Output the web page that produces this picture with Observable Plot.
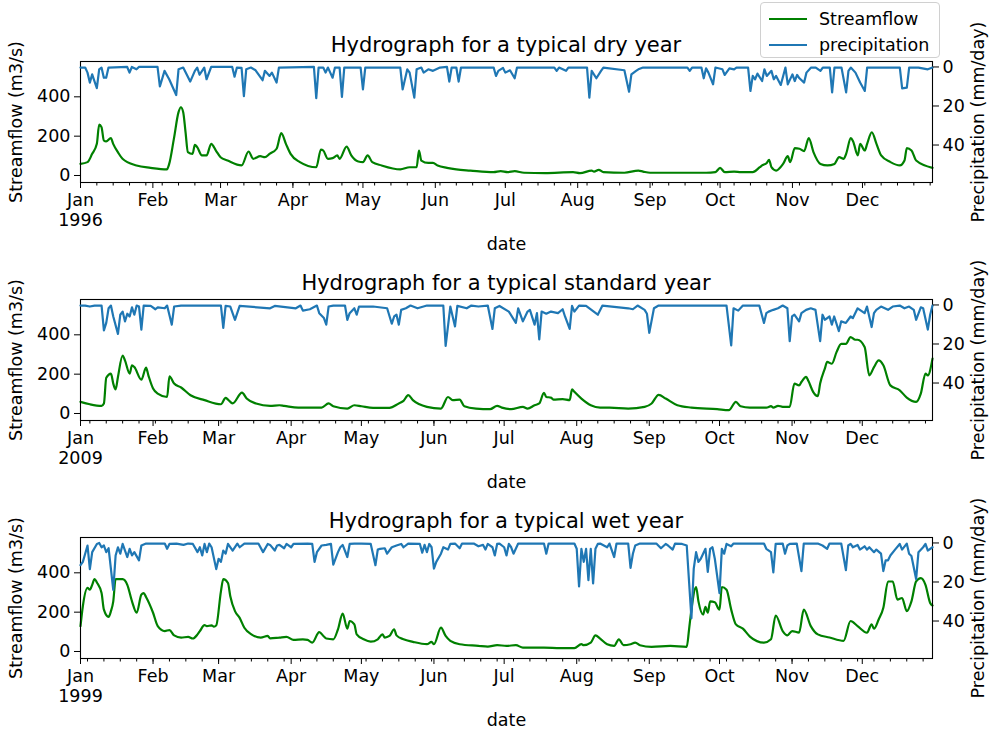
<!DOCTYPE html>
<html>
<head>
<meta charset="utf-8">
<script src="https://cdn.jsdelivr.net/npm/d3@7"></script>
<script src="https://cdn.jsdelivr.net/npm/@observablehq/plot@0.6"></script>
<style>
  body { margin: 0; background: #fff; }
  #fig { position: relative; width: 993px; height: 734px; overflow: hidden; font-family: "DejaVu Sans", sans-serif; color: #000; }
  #fig svg { position: absolute; left: 0; overflow: visible; }
  .title { position: absolute; left: 80px; width: 852px; text-align: center; font-size: 21px; line-height: 24px; }
  .legend { position: absolute; left: 760px; top: 2px; width: 180px; height: 56px; box-sizing: border-box;
            border: 1px solid #d0d0d0; border-radius: 4px; background: rgba(255,255,255,0.8); font-size: 17.5px; z-index: 10; }
  .legend .row { position: absolute; left: 8px; height: 22px; display: flex; align-items: center; }
  .legend .sw { width: 38px; height: 2.2px; margin-right: 12px; }
</style>
</head>
<body>
<div id="fig"></div>
<script>
// Daily streamflow (m3/s) as [day of year, value] turning points, and daily precipitation (mm/day).
const years = [1996, 2009, 1999];
const titles = ["Hydrograph for a typical dry year", "Hydrograph for a typical standard year", "Hydrograph for a typical wet year"];
const monthLabels = ["Jan", "Feb", "Mar", "Apr", "May", "Jun", "Jul", "Aug", "Sep", "Oct", "Nov", "Dec"];
const flowTicks = [0, 200, 400];
const rainTicks = [0, 20, 40];

const dryFlow = [[0,59],[3,68],[5,110],[7,161],[8,259],[9,246],[10,178],[11,173],[13,190],[14,161],[16,119],[18,85],[24,51],[30,39],[37,31],[38,59],[40,186],[42,322],[43,347],[44,322],[45,220],[46,119],[48,110],[49,156],[50,144],[52,102],[54,102],[56,161],[58,127],[60,93],[63,76],[69,51],[72,122],[74,85],[77,98],[79,93],[81,110],[84,136],[86,215],[88,161],[90,110],[94,68],[101,42],[103,132],[104,127],[106,85],[108,88],[110,102],[111,85],[114,147],[116,102],[119,71],[121,68],[123,102],[125,68],[129,51],[137,31],[141,42],[144,42],[145,127],[146,76],[149,64],[151,64],[153,51],[157,39],[161,31],[167,25],[177,17],[180,22],[183,17],[186,22],[190,14],[199,12],[211,17],[214,12],[219,25],[220,20],[222,29],[224,17],[233,14],[239,25],[241,20],[244,14],[268,14],[272,17],[274,39],[276,17],[280,20],[283,17],[288,17],[291,42],[292,51],[294,64],[295,80],[296,42],[298,25],[301,59],[303,98],[304,68],[306,139],[308,136],[310,124],[312,190],[314,119],[317,59],[320,51],[323,59],[325,93],[327,85],[328,110],[330,190],[331,173],[333,102],[334,161],[336,127],[337,161],[339,220],[341,161],[343,102],[347,68],[351,51],[353,76],[354,139],[356,127],[358,76],[365,39]];

const dryRain = [[0,0.3],[2,0.3],[3,2.9],[4,8],[5,3.8],[7,10.9],[8,1.2],[9,0.3],[10,5.5],[11,5.5],[12,0.3],[20,0],[21,2.9],[22,0],[24,1.2],[25,0],[33,0],[34,10],[36,2],[38,6.3],[41,14.4],[42,1.2],[44,0.3],[47,7.5],[49,2],[50,0.3],[51,4],[53,0.3],[54,6.3],[56,0],[65,0],[66,5],[67,0.3],[69,0.5],[70,15],[71,1.2],[73,0.3],[75,1.7],[78,6.8],[79,2],[81,4.6],[82,2.9],[84,8],[85,0.3],[100,0],[101,16],[102,0.3],[104,0.3],[105,2.9],[106,0.3],[107,2.9],[108,5.5],[109,0.3],[111,0.3],[112,15.4],[113,0.3],[120,0.3],[121,11.5],[122,0.3],[137,0.3],[138,11.5],[140,1.2],[141,2.9],[143,15.7],[144,1.2],[146,0.3],[147,2.9],[149,1.2],[151,2],[154,0.3],[157,0],[158,7.5],[159,0.3],[161,0.3],[162,7.5],[163,0.3],[177,0.3],[178,4.6],[179,2],[181,0.5],[182,2.9],[184,1.7],[186,5.8],[187,0.3],[203,0.3],[204,2],[205,0.3],[208,2],[209,0.3],[217,0.3],[218,15.7],[219,2],[221,5.8],[223,2],[224,0.3],[233,1.7],[235,12.7],[236,3.8],[238,2],[239,1.2],[241,0.3],[260,0.3],[261,2],[262,0.3],[266,0.3],[267,5.8],[268,0.7],[269,2.9],[271,8.9],[272,0.3],[275,1.2],[276,4.1],[278,0.7],[280,1.2],[281,0.3],[286,0.3],[287,12.3],[288,4.6],[289,6.3],[290,3.4],[292,7.2],[293,1.2],[294,4.6],[296,2],[297,6.3],[298,4.6],[300,9.2],[302,0.3],[303,8.9],[305,3.8],[306,7.2],[307,4.1],[308,5.8],[310,8],[311,2.9],[313,0.3],[315,0.3],[317,2],[318,0.3],[321,0.3],[322,13],[323,0.3],[326,0.3],[328,13],[329,2],[330,0.3],[332,2.9],[334,8],[336,12.3],[337,0.3],[351,0.3],[352,11],[354,10.6],[355,0.3],[359,0.3],[363,1.2],[365,0.3]];

const stdFlow = [[0,59],[4,47],[9,39],[10,51],[11,182],[13,203],[14,152],[15,122],[16,186],[18,295],[19,270],[21,203],[22,245],[23,236],[26,172],[28,233],[29,194],[31,127],[33,101],[37,84],[38,189],[40,152],[43,132],[47,93],[53,68],[60,47],[62,79],[63,71],[65,51],[69,106],[71,76],[75,51],[81,39],[85,42],[87,39],[93,30],[103,30],[106,51],[108,37],[114,25],[117,42],[120,37],[125,29],[132,29],[136,51],[138,64],[140,93],[142,68],[148,34],[154,25],[157,84],[159,68],[162,71],[164,37],[169,25],[175,22],[178,39],[180,30],[184,22],[189,34],[191,25],[194,42],[196,51],[198,105],[199,84],[201,81],[202,71],[206,73],[209,68],[210,123],[211,110],[214,76],[218,42],[222,30],[226,30],[234,25],[241,34],[244,51],[247,95],[250,76],[255,42],[261,30],[272,22],[277,17],[280,59],[282,37],[286,30],[293,30],[295,37],[296,30],[298,39],[300,34],[303,34],[305,152],[307,143],[308,160],[310,186],[311,165],[313,110],[315,88],[316,152],[318,228],[319,262],[321,253],[323,312],[325,354],[327,354],[329,388],[331,375],[332,375],[335,338],[337,194],[339,236],[341,270],[343,245],[346,143],[350,118],[353,81],[357,59],[359,101],[361,203],[362,194],[364,279]];

const stdRain = [[0,0.3],[2,0.3],[4,0.8],[6,0.3],[9,0.3],[10,13],[11,9.2],[12,1.7],[13,0.3],[14,5.9],[16,14.8],[17,5],[18,3.4],[19,8.4],[20,4.5],[21,5.9],[22,1.2],[23,5],[24,0.3],[25,0.8],[26,12.6],[27,0.3],[30,0.5],[32,2.2],[33,1.2],[36,1.7],[37,0.3],[39,10.1],[40,0.8],[43,0.3],[60,0.3],[61,11.8],[62,0.5],[64,0.8],[66,7.6],[68,0.5],[81,1.7],[83,0.5],[92,1.7],[94,0.3],[95,2.9],[98,2.2],[101,0.3],[102,4.2],[104,6.7],[105,10.1],[106,0.8],[108,0.3],[113,0.3],[114,7.6],[115,4.2],[117,1.7],[118,5],[119,0.8],[125,0.8],[131,1.7],[133,9.6],[134,5.9],[135,5],[136,10.1],[137,2.5],[139,1.7],[141,0.3],[144,1.7],[148,0.3],[155,0.3],[156,21],[158,0.8],[160,11],[161,0.5],[165,1.7],[167,0.3],[170,0.8],[174,0.3],[176,12.3],[177,1.7],[179,0.5],[183,3.4],[186,9.2],[187,1.7],[189,8.4],[191,3.4],[192,2.5],[194,10.1],[195,4.2],[196,17.6],[197,3.4],[199,4.5],[201,3.4],[204,4.2],[206,2.2],[207,5.9],[209,12.3],[210,0.5],[211,3.4],[213,0.3],[216,0.5],[221,5],[223,0.3],[234,1.7],[236,2.2],[238,0.3],[241,2.5],[242,4.5],[243,14.3],[245,1.7],[247,0.3],[256,0.3],[276,0.3],[278,20.7],[279,1.7],[281,2.9],[283,0.3],[290,0.3],[292,9.2],[293,4.2],[294,3.4],[296,2.5],[298,1.7],[300,0.3],[302,1.7],[303,18.5],[304,5.9],[305,5],[307,8.4],[308,4.2],[310,2.5],[312,1.7],[314,2.5],[316,18.5],[317,5],[318,7.6],[320,5.9],[321,10.1],[322,5.9],[324,13.4],[325,8.4],[327,9.2],[329,5.9],[330,6.7],[332,1.7],[335,4.2],[336,0.8],[338,11.3],[339,4.2],[340,2.5],[342,0.8],[345,2.5],[347,0.8],[350,0.3],[352,1.7],[354,0.8],[356,2.5],[357,7.6],[359,1.2],[360,1.7],[362,12.6],[363,5],[364,0.3]];

const wetFlow = [[0,129],[1,230],[3,323],[4,314],[5,339],[6,368],[7,351],[9,297],[10,213],[12,176],[13,205],[14,255],[15,368],[18,368],[20,339],[22,255],[24,197],[26,289],[27,297],[28,277],[31,197],[33,129],[36,104],[38,109],[40,82],[43,71],[46,74],[48,66],[50,87],[51,104],[53,134],[54,129],[56,133],[57,126],[58,133],[60,306],[61,368],[63,348],[64,281],[66,205],[68,171],[70,121],[73,87],[77,71],[80,79],[81,67],[85,71],[88,74],[91,59],[95,62],[97,59],[99,45],[102,99],[104,76],[105,66],[108,62],[110,113],[112,193],[114,116],[115,155],[117,138],[118,87],[121,62],[124,50],[127,62],[129,87],[130,71],[132,79],[134,113],[135,82],[138,62],[142,49],[148,37],[150,49],[151,37],[154,121],[156,79],[158,54],[162,37],[170,29],[174,25],[178,32],[182,29],[186,32],[189,20],[198,20],[205,17],[211,17],[214,37],[215,32],[218,45],[220,82],[222,66],[225,37],[228,29],[230,62],[232,32],[235,37],[237,45],[239,32],[244,24],[252,29],[259,24],[260,113],[261,213],[263,328],[264,255],[266,188],[267,227],[268,197],[269,255],[271,250],[273,213],[274,328],[276,314],[278,213],[280,138],[283,116],[286,76],[292,45],[295,62],[297,183],[300,104],[302,82],[304,104],[307,96],[309,213],[312,129],[315,87],[320,71],[326,54],[329,155],[332,129],[336,96],[338,138],[339,116],[341,163],[343,222],[345,356],[347,356],[349,264],[351,272],[353,205],[355,255],[357,356],[359,373],[361,339],[363,247],[364,234]];

const wetRain = [[0,11.4],[1,9.7],[2,5.5],[3,1.3],[4,13.4],[5,4.7],[7,0.5],[8,0],[9,2.2],[10,1.3],[11,4.7],[12,2.7],[14,24],[15,6.4],[16,2.2],[17,5.5],[18,0.5],[20,7.2],[21,3],[22,6.4],[23,4.7],[25,8.9],[26,1.3],[28,0.3],[36,0.3],[37,3],[38,0.5],[41,0.3],[44,1],[46,0.3],[48,0.5],[50,4.7],[51,2.2],[52,6.4],[53,0.5],[54,4.7],[55,0.3],[56,2.2],[58,13.4],[59,8.1],[60,9.7],[61,3.9],[62,5.5],[63,0.5],[65,3.9],[67,0.3],[68,2.2],[70,0.3],[76,0.3],[78,4.7],[80,0.5],[81,1],[83,3.9],[84,1.3],[85,1],[87,2.7],[88,0.5],[90,2.2],[91,0.5],[97,0.3],[99,0.5],[100,9.7],[101,4.7],[103,1.3],[105,1],[107,0.5],[108,11.1],[110,4.7],[111,2.2],[112,1],[114,7.2],[115,0.5],[117,0.3],[120,0.3],[124,0.5],[126,11.4],[127,3.4],[128,3],[130,2.7],[131,5.5],[133,2.2],[135,1.3],[137,0.5],[138,2.2],[140,0.3],[145,0.5],[146,5],[147,1],[148,4.7],[149,0.5],[150,2.2],[151,13.1],[152,9.7],[154,5.5],[155,2.2],[157,3.4],[158,0.5],[160,0.3],[162,2.7],[163,0.3],[168,0.3],[170,1.7],[172,1],[173,3.4],[174,0.5],[176,2.2],[177,6.4],[178,0.5],[179,0.3],[181,2.2],[182,6.4],[183,0.5],[184,2.2],[185,5.5],[187,0.3],[198,0.3],[199,5.5],[200,0.3],[211,0.3],[212,3],[213,22.3],[214,3],[215,9.7],[216,3],[217,19],[218,3],[219,20.7],[220,3],[221,0.5],[222,0.3],[225,2.2],[226,0.3],[228,7.2],[229,0.3],[234,0.3],[235,12.8],[236,5.5],[237,1.3],[239,0.3],[246,0.3],[248,2.7],[250,0.5],[251,1.3],[253,3.4],[254,0.3],[257,0.5],[259,1.3],[261,38.6],[262,13.1],[263,4.7],[264,9.7],[265,8.1],[266,5.5],[267,3],[268,14.8],[269,3],[270,2.2],[271,8.1],[273,25.7],[274,3],[275,5.5],[276,0.5],[278,1.7],[279,0.3],[292,0.3],[293,3],[295,4.7],[296,15.1],[297,0.5],[300,0.3],[301,5.5],[302,1.3],[303,0.5],[306,0.3],[308,14.4],[309,0.3],[315,0.3],[317,1.3],[319,3],[320,0.3],[325,0.3],[327,13.9],[328,1.3],[329,0.5],[330,2.2],[332,1],[333,3.4],[335,1.7],[336,3.4],[337,2.2],[339,4.7],[340,3.4],[342,5.5],[343,14.4],[344,8.9],[345,8.9],[346,6.4],[348,3.4],[350,0.5],[351,3.4],[353,0.3],[354,5.5],[355,6.7],[357,18.5],[358,4.7],[360,2.2],[361,0.5],[362,3.9],[364,2.2]];

// Axis extents shared by the three panels
const flowDomain = [-35.6, 579.6];
const rainDomain = [-2.8, 59.2];

const panels = [
  {year: years[0], title: titles[0], flow: dryFlow, rain: dryRain},
  {year: years[1], title: titles[1], flow: stdFlow, rain: stdRain},
  {year: years[2], title: titles[2], flow: wetFlow, rain: wetRain}
];

const fig = document.getElementById("fig");
const W = 993, ML = 80, MR = 61, MT = 5, MB = 80, FH = 121;
const frameTops = [61, 299, 537];
const font = {fontFamily: "DejaVu Sans", fontSize: "17.5px", background: "transparent", color: "#000", overflow: "visible"};

panels.forEach((p, i) => {
  const start = new Date(Date.UTC(p.year, 0, 1));
  const end = new Date(Date.UTC(p.year, 11, 31));
  const after = d3.utcDay.offset(end, 1);
  const months = d3.utcMonth.range(start, after);
  const weeks = d3.utcMonday.range(start, after);
  const toDate = d => d3.utcDay.offset(start, d);
  const flow = p.flow.map(([d, v]) => ({date: toDate(d), value: v}));
  const rain = p.rain.map(([d, v]) => ({date: toDate(d), value: v}));
  const fmt = d => d.getUTCMonth() === 0 ? `${monthLabels[0]}\n${p.year}` : monthLabels[d.getUTCMonth()];
  const common = {width: W, height: MT + FH + MB, marginLeft: ML, marginRight: MR, marginTop: MT, marginBottom: MB, style: font};

  // Streamflow on the left axis, with the month axis below
  const flowPlot = Plot.plot({
    ...common,
    x: {type: "utc", domain: [start, end]},
    y: {domain: flowDomain},
    marks: [
      Plot.line(flow, {x: "date", y: "value", stroke: "green", strokeWidth: 2.2, curve: "monotone-x"}),
      Plot.axisX({ticks: weeks, tickSize: 3.5, tickFormat: () => "", label: null}),
      Plot.axisX({ticks: months, tickSize: 6, tickPadding: 3, tickFormat: fmt, lineHeight: 1.15,
                  label: "date", labelAnchor: "center", labelOffset: 67, labelArrow: false}),
      Plot.axisY({ticks: flowTicks, tickSize: 6, tickPadding: 4, label: "Streamflow (m3/s)",
                  labelAnchor: "center", labelOffset: 71, labelArrow: false}),
      Plot.frame({stroke: "#000", strokeWidth: 1.1})
    ]
  });

  // Precipitation on an inverted right axis, drawn over the same frame
  const rainPlot = Plot.plot({
    ...common,
    x: {type: "utc", domain: [start, end], axis: null},
    y: {domain: rainDomain, reverse: true},
    marks: [
      Plot.line(rain, {x: "date", y: "value", stroke: "#1f77b4", strokeWidth: 2.2}),
      Plot.axisY({anchor: "right", ticks: rainTicks, tickSize: 6, tickPadding: 4, label: "Precipitation (mm/day)",
                  labelAnchor: "center", labelOffset: 51, labelArrow: false})
    ]
  });

  const top = frameTops[i] - MT;
  flowPlot.style.top = top + "px";
  rainPlot.style.top = top + "px";
  fig.appendChild(flowPlot);
  fig.appendChild(rainPlot);

  const t = document.createElement("div");
  t.className = "title";
  t.style.top = (frameTops[i] - 28) + "px";
  t.textContent = p.title;
  fig.appendChild(t);
});

// Legend
const legend = document.createElement("div");
legend.className = "legend";
[["Streamflow", "green", 5], ["precipitation", "#1f77b4", 31]].forEach(([name, color, y]) => {
  const row = document.createElement("div");
  row.className = "row";
  row.style.top = y + "px";
  const sw = document.createElement("span");
  sw.className = "sw";
  sw.style.background = color;
  const label = document.createElement("span");
  label.textContent = name;
  row.appendChild(sw);
  row.appendChild(label);
  legend.appendChild(row);
});
fig.appendChild(legend);
</script>
</body>
</html>
